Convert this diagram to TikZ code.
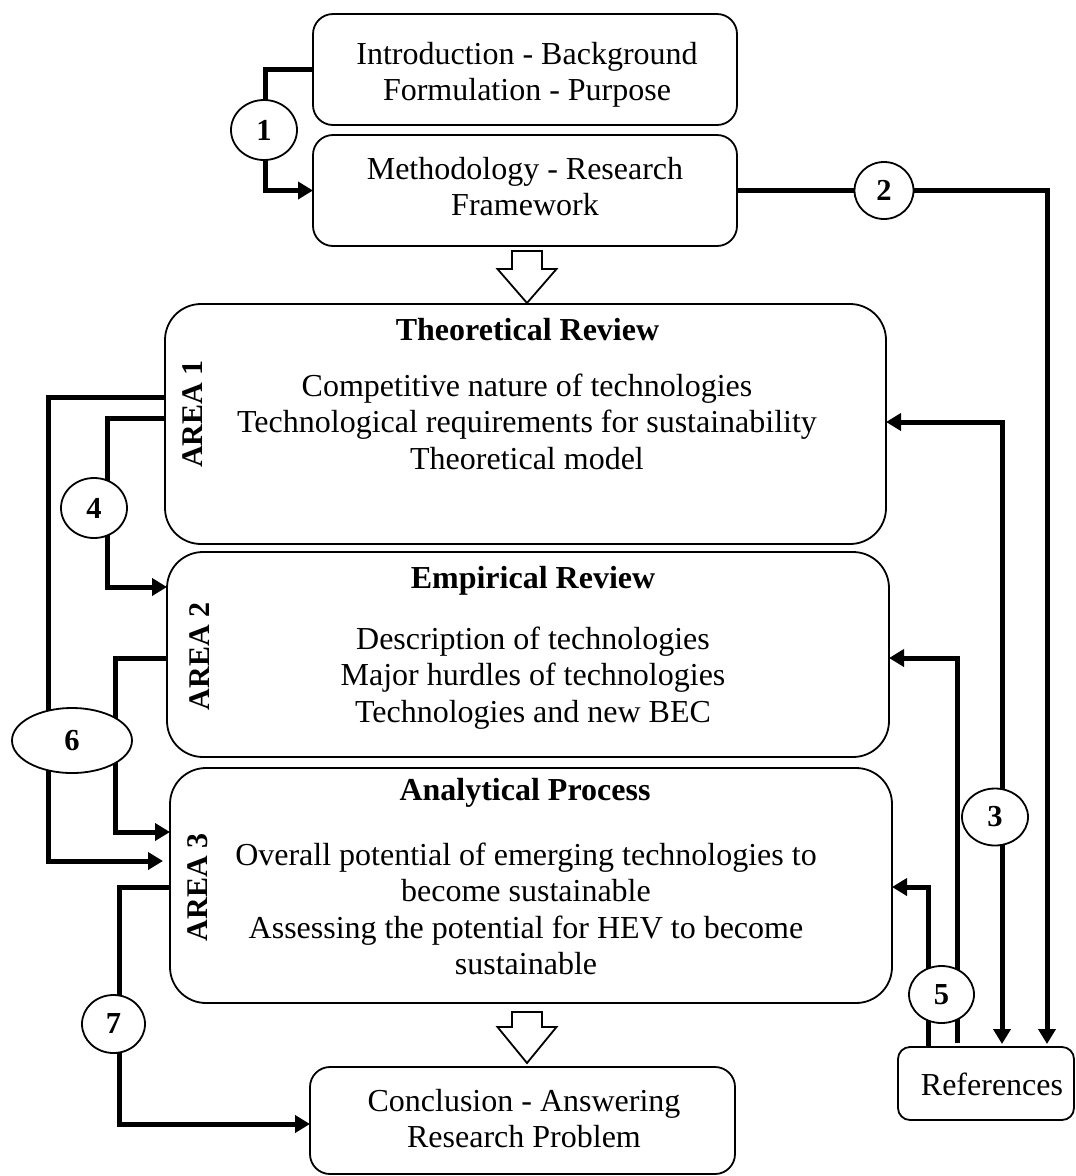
\documentclass[tikz,border=0pt]{standalone}
\usepackage{fontspec}
\setmainfont{Liberation Serif}
\usetikzlibrary{arrows.meta,shapes.geometric}
\newcommand{\ml}[1]{\begin{tabular}[t]{@{}c@{}}#1\end{tabular}}
\newcommand{\hollowarrow}[4]{% x, ytop, yhead, ytip
  \draw[hollow] (#1-15,#2) -- (#1+15,#2) -- (#1+15,#3) -- (#1+29.5,#3) -- (#1,#4) -- (#1-29.5,#3) -- (#1-15,#3) -- cycle;}
\pgfdeclarelayer{bg}
\pgfsetlayers{bg,main}
\begin{document}
\begin{tikzpicture}[x=1pt,y=-1pt,
  every node/.style={inner sep=0pt, outer sep=0pt},
  box/.style={draw, line width=1.8pt, rounded corners=20pt},
  bigbox/.style={draw, line width=1.8pt, rounded corners=36pt},
  txt/.style={font=\fontsize{32}{36.5}\selectfont, anchor=base},
  ttl/.style={font=\fontsize{32}{36.5}\selectfont\bfseries, anchor=base},
  area/.style={font=\fontsize{30}{36}\selectfont\bfseries, rotate=90},
  num/.style={draw, ellipse, line width=1.8pt, fill=white, font=\fontsize{30.5}{36}\selectfont\bfseries},
  link/.style={line width=5pt, -{Triangle[length=15pt,width=17pt]}},
  link2/.style={line width=5pt, {Triangle[length=15pt,width=17pt]}-{Triangle[length=15pt,width=17pt]}},
  hollow/.style={draw, line width=1.8pt, fill=white, line join=miter}]
\useasboundingbox (0,0) rectangle (1076,1176);
\begin{pgfonlayer}{bg}
\fill[white] (0,0) rectangle (1076,1176);
\end{pgfonlayer}

% boxes
\node[box, minimum width=424pt, minimum height=111pt] (intro) at (525,69.5) {};
\node[box, minimum width=424pt, minimum height=111pt] (method) at (525,190.5) {};
\node[bigbox, minimum width=721pt, minimum height=240pt] (theo) at (525.5,424) {};
\node[bigbox, minimum width=722pt, minimum height=205pt] (emp) at (528,654.5) {};
\node[bigbox, minimum width=722pt, minimum height=235pt] (ana) at (531,885.5) {};
\node[box, minimum width=425pt, minimum height=107pt] (concl) at (522.5,1120.5) {};
\node[box, rounded corners=12pt, minimum width=176pt, minimum height=73pt] (refs) at (986,1083.5) {};

% texts
\node[txt] (introT) at (527,64) {\ml{Introduction - Background\\Formulation - Purpose}};
\node[txt] (methodT) at (525,179) {\ml{Methodology - Research\\Framework}};
\node[ttl] (theoH) at (527.5,340) {Theoretical Review};
\node[txt] (theoT) at (527,396) {\ml{Competitive nature of technologies\\Technological requirements for sustainability\\Theoretical model}};
\node[ttl] (empH) at (533,588) {Empirical Review};
\node[txt] (empT) at (533,649) {\ml{Description of technologies\\Major hurdles of technologies\\Technologies and new BEC}};
\node[ttl] (anaH) at (525,800) {Analytical Process};
\node[txt] (anaT) at (526,865) {\ml{Overall potential of emerging technologies to\\become sustainable\\Assessing the potential for HEV to become\\sustainable}};
\node[txt] (conclT) at (524,1111) {\ml{Conclusion - Answering\\Research Problem}};
\node[txt] (refsT) at (992,1095) {References};
\node[area] (ar1) at (193,414) {AREA 1};
\node[area] (ar2) at (200,656.5) {AREA 2};
\node[area] (ar3) at (197.5,887.5) {AREA 3};

% hollow arrows
\hollowarrow{527}{251}{269}{303}
\hollowarrow{527}{1012}{1027}{1063}

% numbered ellipses
\node[num, minimum width=66pt, minimum height=60pt] (c1) at (264,130) {1};
\node[num, minimum width=59pt, minimum height=57pt] (c2) at (884,190.5) {2};
\node[num, minimum width=66pt, minimum height=57pt] (c3) at (995,817) {3};
\node[num, minimum width=66pt, minimum height=60pt] (c4) at (94,508) {4};
\node[num, minimum width=65pt, minimum height=57pt] (c5) at (941.5,994.5) {5};
\node[num, minimum width=120pt, minimum height=65pt] (c6) at (72,740.5) {6};
\node[num, minimum width=63pt, minimum height=58pt] (c7) at (113.5,1024) {7};

% ports and columns
\coordinate (t1) at ([yshift=27pt]theo.west);
\coordinate (t2) at ([yshift=6pt]theo.west);
\coordinate (e1) at ([yshift=67.5pt]emp.west);
\coordinate (e2) at ([yshift=-3.5pt]emp.west);
\coordinate (a1) at ([yshift=53.5pt]ana.west);
\coordinate (a2) at ([yshift=24.5pt]ana.west);
\coordinate (a3) at ([yshift=-1.5pt]ana.west);
\coordinate (cw) at ([yshift=-3.5pt]concl.west);
\coordinate (tE) at ([yshift=2pt]theo.east);
\coordinate (eE) at ([yshift=-3.5pt]emp.east);
\coordinate (aE) at ([yshift=-1.5pt]ana.east);
\coordinate (x1) at (265,0);
\coordinate (x2) at (1047,0);
\coordinate (x3) at (1002,0);
\coordinate (x5a) at (928,0);
\coordinate (x5b) at (957,0);
\coordinate (x4) at (107,0);
\coordinate (x6a) at (48,0);
\coordinate (x6b) at (115,0);
\coordinate (x7) at (119,0);

\begin{pgfonlayer}{bg}
\draw[link] (intro.west) -| (x1 |- c1) |- (method.west);
\draw[link, shorten >=3pt] (method.east) -| (x2 |- refs.north);
\draw[link2, shorten >=3pt] (tE) -| (x3 |- refs.north);
\draw[link] (x5a |- refs.north) |- (aE);
\draw[link, shorten <=4pt] (x5b |- refs.north) |- (eE);
\draw[link] (t2) -| (x4 |- e1) -- (e1);
\draw[link, shorten >=7pt] (t1) -| (x6a |- a2) -- (a2);
\draw[link] (e2) -| (x6b |- a1) -- (a1);
\draw[link] (a3) -| (x7 |- cw) -- (cw);
\end{pgfonlayer}
\end{tikzpicture}
\end{document}
